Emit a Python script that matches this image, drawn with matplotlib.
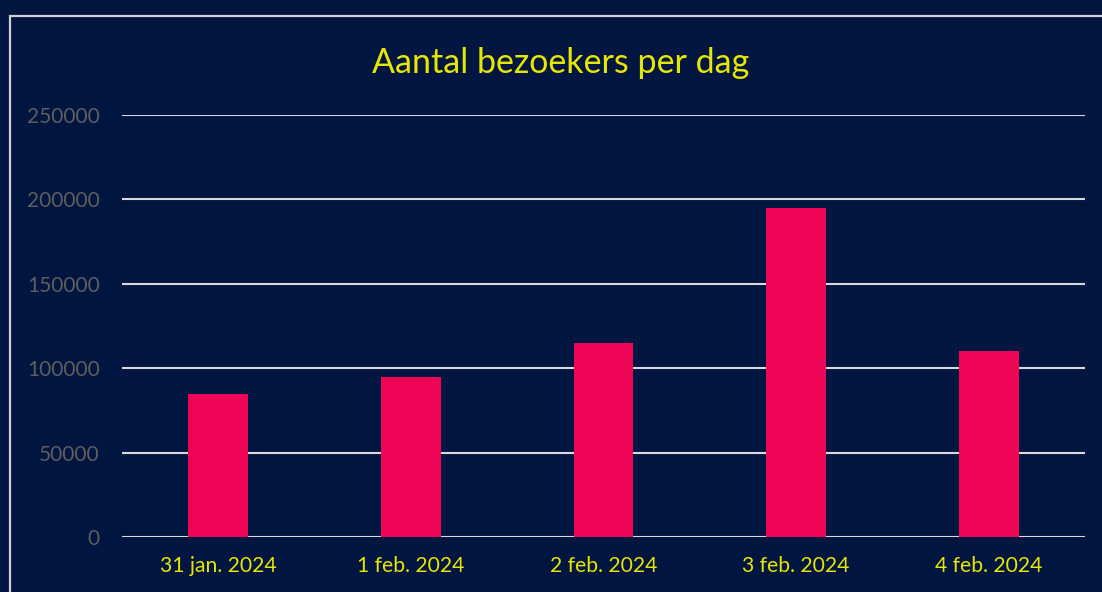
import matplotlib
matplotlib.use("Agg")
import matplotlib.pyplot as plt
from matplotlib.patches import Rectangle

categories = ["31 jan. 2024", "1 feb. 2024", "2 feb. 2024", "3 feb. 2024", "4 feb. 2024"]
visitors = [85000, 95000, 115000, 195000, 110000]
yticks = [0, 50000, 100000, 150000, 200000, 250000]
title = "Aantal bezoekers per dag"

BG = "#001540"
BAR = "#EE0556"
GRID = "#D9D9D9"
YEL = "#E6E600"
GRAY = "#5F5F5F"

plt.rcParams['font.family'] = ['Lato', 'DejaVu Sans']

W, H = 1102, 592
fig = plt.figure(figsize=(W/100, H/100), dpi=100, facecolor=BG)
ax = fig.add_axes([122/W, 1-537/H, (1085-122)/W, (537-115)/H], facecolor=BG)

x = list(range(len(categories)))
ax.bar(x, visitors, width=0.31, color=BAR, zorder=3)
ax.set_xlim(-0.5, len(categories)-0.5)
ax.set_ylim(0, 250000)
ax.set_yticks(yticks)
ax.set_yticklabels([str(v) for v in yticks])
ax.set_xticks(x)
ax.set_xticklabels(categories)
ax.yaxis.grid(True, color=GRID, linewidth=1.5, zorder=1)
ax.set_axisbelow(True)
for s in ax.spines.values():
    s.set_visible(False)
ax.tick_params(axis='y', length=0, pad=16, labelsize=15, labelcolor=GRAY)
ax.tick_params(axis='x', length=0, pad=14, labelsize=15.2, labelcolor=YEL)

fig.text(561/W, 1-73/H, title, ha='center', va='baseline', fontsize=24.5, color=YEL)

fig.patches.append(Rectangle((10/W, -0.1), 1.2, 1-16/H+0.1, transform=fig.transFigure,
                             fill=False, edgecolor="#D0D0D0", linewidth=1.6))

fig.savefig("out.png", dpi=100, facecolor=BG)
